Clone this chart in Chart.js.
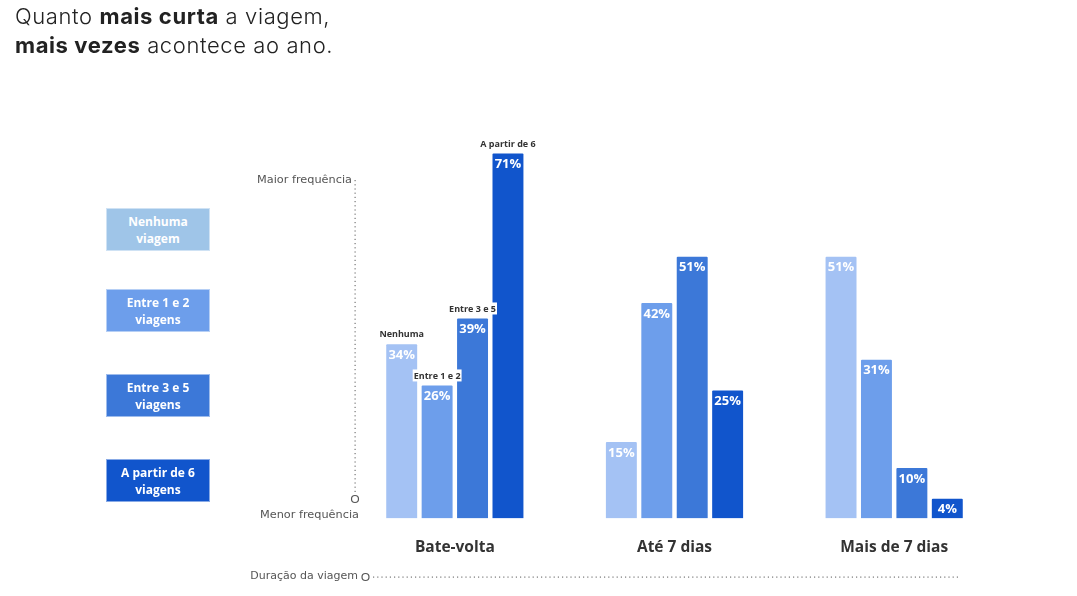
<!DOCTYPE html>
<html>
<head>
<meta charset="utf-8">
<script src="https://cdn.jsdelivr.net/npm/chart.js@4.4.0/dist/chart.umd.min.js"></script>
<style>
  html,body{margin:0;padding:0;background:#fff;}
  body{width:1077px;height:596px;position:relative;overflow:hidden;font-family:"Open Sans",sans-serif;}
  #title{position:absolute;left:15px;top:2px;font-family:Inter,"Open Sans",sans-serif;font-size:22px;line-height:29px;color:#222;font-weight:300;letter-spacing:0.6px;}
  #title b{font-weight:700;}
  #wrap{position:absolute;left:0;top:0;width:1077px;height:596px;}
  .leg{position:absolute;left:106px;width:104px;height:43px;box-sizing:border-box;border:1px solid rgba(255,255,255,0.5);color:#fff;font-family:"Open Sans",sans-serif;font-weight:700;font-size:12px;line-height:17px;display:flex;align-items:center;justify-content:center;text-align:center;}
</style>
</head>
<body>
<div id="wrap"><canvas id="c" width="1077" height="596"></canvas></div>
<div id="title">Quanto <b>mais curta</b> a viagem,<br><b>mais vezes</b> acontece ao ano.</div>
<div id="legend"></div>
<script>
const duracoes = ['Bate-volta', 'Até 7 dias', 'Mais de 7 dias'];
const frequencias = ['Nenhuma', 'Entre 1 e 2', 'Entre 3 e 5', 'A partir de 6'];
const legendaTextos = ['Nenhuma<br>viagem', 'Entre 1 e 2<br>viagens', 'Entre 3 e 5<br>viagens', 'A partir de 6<br>viagens'];
const nenhuma = [34, 15, 51];
const entre1e2 = [26, 42, 31];
const entre3e5 = [39, 51, 10];
const aPartirDe6 = [71, 25, 4];
const cores = ['#A4C2F4', '#6D9EEB', '#3C78D8', '#1155CC'];
const coresLegenda = ['#9FC5E8', '#6D9EEB', '#3C78D8', '#1155CC'];
const legendaTopo = [208, 289, 374, 459];

const series = [nenhuma, entre1e2, entre3e5, aPartirDe6];

// HTML legend
const lg = document.getElementById('legend');
legendaTextos.forEach((t, i) => {
  const d = document.createElement('div');
  d.className = 'leg';
  d.style.top = legendaTopo[i] + 'px';
  d.style.background = coresLegenda[i];
  d.innerHTML = t;
  lg.appendChild(d);
});

const decor = {
  id: 'decor',
  afterDatasetsDraw(chart) {
    const ctx = chart.ctx;
    ctx.save();
    // value labels
    chart.data.datasets.forEach((ds, di) => {
      const meta = chart.getDatasetMeta(di);
      meta.data.forEach((bar, i) => {
        ctx.font = 'bold 13px "Open Sans", sans-serif';
        ctx.fillStyle = '#fff';
        ctx.textAlign = 'center';
        ctx.textBaseline = 'middle';
        ctx.fillText(ds.data[i] + '%', bar.x, bar.y + 12);
        if (i === 0) {
          ctx.font = 'bold 9px "Open Sans", sans-serif';
          const txt = ds.label;
          const w = ctx.measureText(txt).width;
          ctx.fillStyle = '#fff';
          ctx.fillRect(bar.x - w / 2 - 1, bar.y - 15, w + 2, 12);
          ctx.fillStyle = '#333';
          ctx.fillText(txt, bar.x, bar.y - 8.5);
        }
      });
    });
    // vertical frequency axis
    const ax = 355;
    ctx.fillStyle = '#777';
    for (let y = 180; y < 493; y += 4.2) {
      ctx.fillRect(ax - 0.5, y, 1.2, 1.2);
    }
    ctx.strokeStyle = '#555';
    ctx.lineWidth = 1.2;
    ctx.beginPath();
    ctx.arc(ax, 499, 3.5, 0, Math.PI * 2);
    ctx.stroke();
    ctx.font = '11.3px "DejaVu Sans", sans-serif';
    ctx.fillStyle = '#555';
    ctx.textAlign = 'right';
    ctx.textBaseline = 'middle';
    ctx.fillText('Maior frequência', 352, 180);
    ctx.fillText('Menor frequência', 359, 515);
    // horizontal duration axis
    ctx.font = '11px "DejaVu Sans", sans-serif';
    ctx.fillText('Duração da viagem', 358, 576);
    ctx.beginPath();
    ctx.arc(365.5, 577, 3.5, 0, Math.PI * 2);
    ctx.stroke();
    ctx.fillStyle = '#777';
    for (let x = 373; x < 961; x += 4.2) {
      ctx.fillRect(x, 576.5, 1.2, 1.2);
    }
    ctx.restore();
  }
};

new Chart(document.getElementById('c'), {
  type: 'bar',
  data: {
    labels: duracoes,
    datasets: frequencias.map((f, i) => ({
      label: f,
      data: series[i],
      backgroundColor: cores[i],
      borderColor: 'rgba(255,255,255,0.45)',
      borderWidth: 1,
      borderRadius: 2,
      borderSkipped: 'bottom',
      barPercentage: 0.93,
      categoryPercentage: 0.645
    }))
  },
  options: {
    responsive: false,
    animation: false,
    devicePixelRatio: 1,
    layout: { padding: { left: 345, right: 73, top: 132, bottom: 19 } },
    plugins: { legend: { display: false }, tooltip: { enabled: false } },
    scales: {
      x: {
        grid: { display: false, drawTicks: false },
        border: { display: false },
        ticks: { color: '#333', font: { family: '"Open Sans", sans-serif', size: 15.5, weight: 'bold' }, padding: 20 }
      },
      y: { display: false, min: 0, max: 75 }
    }
  },
  plugins: [decor]
});
</script>
</body>
</html>
